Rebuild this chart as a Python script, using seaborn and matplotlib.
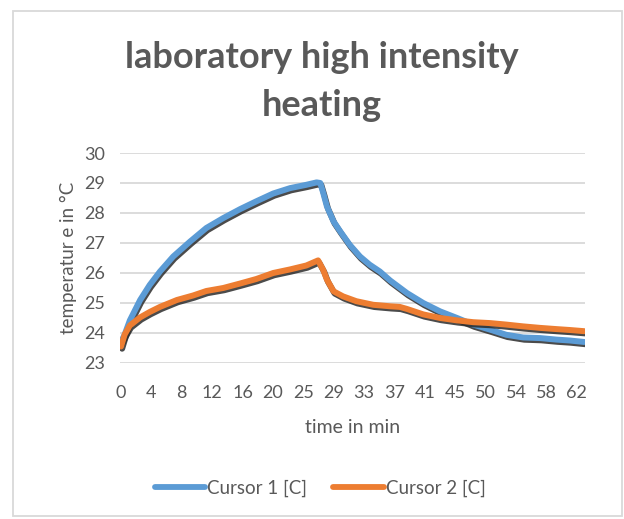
"""
plot.py
-------
Curvas de temperatura del ensayo de calentamiento en laboratorio.
"""

import matplotlib
matplotlib.use("Agg")
import matplotlib.pyplot as plt
import matplotlib.patheffects as pe
from matplotlib.lines import Line2D
from matplotlib.patches import Rectangle
import seaborn as sns
import pandas as pd
import numpy as np

# ===== DATOS =====
time_c1 = [0, 0.5, 1.2, 2.6, 3.9, 5.3, 7.1, 9.4, 11.6, 13.9, 16.2, 18.4, 20.7, 23.0,
           25.2, 26.6, 27.1, 27.5, 28.0, 28.9, 29.8, 31.1, 32.5, 33.8, 35.2, 36.6,
           38.9, 41.1, 43.4, 45.7, 47.9, 50.2, 52.4, 54.7, 57.0, 59.2, 61.0, 63.0]
temp_c1 = [23.7, 23.95, 24.42, 25.1, 25.6, 26.05, 26.55, 27.05, 27.5, 27.83, 28.13,
           28.39, 28.65, 28.83, 28.94, 29.02, 29.0, 28.67, 28.22, 27.72, 27.39, 26.94,
           26.55, 26.28, 26.05, 25.75, 25.33, 25.0, 24.72, 24.5, 24.28, 24.11, 23.94,
           23.85, 23.83, 23.78, 23.75, 23.7]

time_c2 = [0, 0.5, 1.2, 2.6, 3.9, 5.3, 7.6, 9.8, 11.6, 13.9, 16.2, 18.4, 20.7, 23.0,
           25.2, 26.8, 27.5, 28.0, 28.9, 30.2, 32.0, 34.3, 36.6, 37.9, 38.9, 41.1,
           43.4, 45.7, 47.9, 50.2, 52.4, 54.7, 57.0, 59.2, 61.0, 63.0]
temp_c2 = [23.55, 23.95, 24.25, 24.52, 24.7, 24.87, 25.1, 25.25, 25.4, 25.5, 25.65,
           25.8, 26.0, 26.12, 26.25, 26.42, 26.1, 25.78, 25.39, 25.22, 25.06, 24.94,
           24.89, 24.87, 24.8, 24.62, 24.5, 24.42, 24.36, 24.33, 24.28, 24.22, 24.17,
           24.13, 24.1, 24.06]

series_names = ["Cursor 1 [C]", "Cursor 2 [C]"]
x_tick_labels = ["0", "4", "8", "12", "16", "20", "25", "29", "33", "37", "41",
                 "45", "50", "54", "58", "62"]
y_ticks = [23, 24, 25, 26, 27, 28, 29, 30]

# ===== ESTILO =====
sns.set_style("white")
plt.rcParams['font.family'] = ['Lato', 'DejaVu Sans']
text_gray = "#595959"
grid_gray = "#d9d9d9"
palette = {series_names[0]: "#5b9bd5", series_names[1]: "#ed7d31"}

df = pd.concat([
    pd.DataFrame({"time": time_c1, "temp": temp_c1, "serie": series_names[0]}),
    pd.DataFrame({"time": time_c2, "temp": temp_c2, "serie": series_names[1]}),
])

fig = plt.figure(figsize=(6.24, 5.19), dpi=100)
ax = fig.add_axes([0.1923, 0.3006, 0.7452, 0.4046])

shadow = [pe.SimpleLineShadow(offset=(0.8, -1.6), shadow_color="#2b2b2b", alpha=0.85),
          pe.Normal()]

for name in series_names:
    sns.lineplot(data=df[df["serie"] == name], x="time", y="temp", color=palette[name],
                 linewidth=4.3, sort=False, estimator=None, legend=False, ax=ax,
                 path_effects=shadow, solid_capstyle="round")

# Ejes
ax.set_ylim(23, 30)
ax.set_xlim(-0.14, 63.1)
ax.set_yticks(y_ticks)
ax.set_yticklabels([str(v) for v in y_ticks])
ax.set_xticks(np.arange(len(x_tick_labels)) * 62 / 15)
ax.set_xticklabels(x_tick_labels)
ax.tick_params(axis="both", length=0, labelsize=13, colors=text_gray)
ax.tick_params(axis="y", pad=11)
ax.tick_params(axis="x", pad=16)
ax.grid(True, axis="y", color=grid_gray, linewidth=1.3)
ax.grid(False, axis="x")
for s in ax.spines.values():
    s.set_visible(False)
ax.set_axisbelow(True)

ax.set_xlabel("time in min", fontsize=14, color=text_gray, labelpad=13)
ax.set_ylabel("temperatur e in °C", fontsize=13.5, color=text_gray, labelpad=5)

fig.text(0.516, 0.843, "laboratory high intensity\nheating", ha="center", va="center",
         fontsize=26, fontweight="bold", color=text_gray, linespacing=1.55)

# Leyenda
handles = [Line2D([], [], color=palette[n], linewidth=4.2, solid_capstyle="round")
           for n in series_names]
fig.legend(handles, series_names, loc="center", bbox_to_anchor=(0.513, 0.06), ncol=2,
           frameon=False, fontsize=13.5, handlelength=2.7, handletextpad=0.1,
           columnspacing=1.4, labelcolor=text_gray)

# Borde del gráfico
fig.patches.append(Rectangle((13 / 624, 0.006), 609 / 624, 1 - 11 / 519 - 0.006,
                             transform=fig.transFigure, fill=False,
                             edgecolor=grid_gray, linewidth=1.3))

fig.savefig("out.png", dpi=100)
